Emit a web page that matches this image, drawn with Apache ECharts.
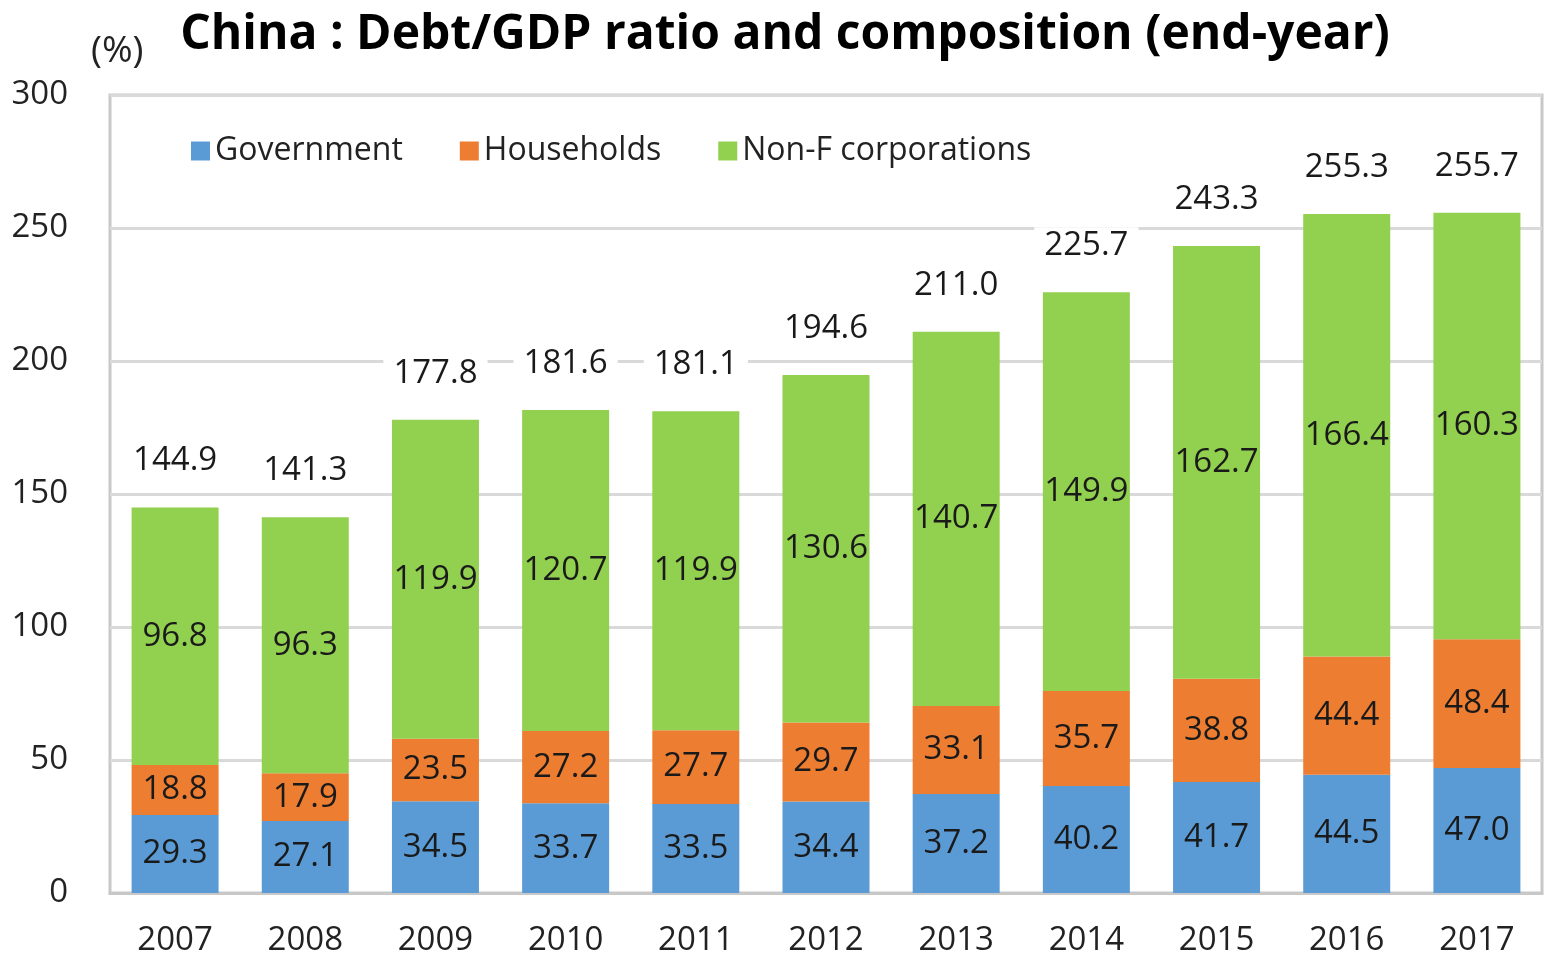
<!DOCTYPE html>
<html><head><meta charset="utf-8">
<script src="https://cdn.jsdelivr.net/npm/echarts@6/dist/echarts.min.js"></script>
<style>html,body{margin:0;padding:0;background:#fff}#c{width:1545px;height:957px}</style>
</head><body><div id="c"></div>
<script>
const years = ['2007','2008','2009','2010','2011','2012','2013','2014','2015','2016','2017'];
const government = [29.3,27.1,34.5,33.7,33.5,34.4,37.2,40.2,41.7,44.5,47.0];
const households = [18.8,17.9,23.5,27.2,27.7,29.7,33.1,35.7,38.8,44.4,48.4];
const nonFinCorp = [96.8,96.3,119.9,120.7,119.9,130.6,140.7,149.9,162.7,166.4,160.3];
const totals = [144.9,141.3,177.8,181.6,181.1,194.6,211.0,225.7,243.3,255.3,255.7];
const seriesNames = ['Government','Households','Non-F corporations'];

const FONT = '"Open Sans", sans-serif';
const chart = echarts.init(document.getElementById('c'), null, {renderer:'canvas'});
const segLabel = {show:true, position:'inside', color:'#1a1a1a', fontSize:33, fontFamily:FONT,
  formatter: p => p.value.toFixed(1)};
chart.setOption({
  animation:false,
  title:{text:'China : Debt/GDP ratio and composition (end-year)', left:780, top:6, textAlign:'center',
    textStyle:{fontFamily:FONT, fontWeight:'bold', fontSize:48, color:'#000'}},
  graphic:[{type:'text', left:91, top:33, style:{text:'(%)', font:'37px "Open Sans"', fill:'#222'}}],
  legend:{left:186, top:130, itemWidth:19, itemHeight:19, itemGap:57, icon:'rect',
    textStyle:{fontFamily:FONT, fontSize:32, color:'#222'}, data:seriesNames},
  grid:{left:110, right:3, top:95, bottom:62, show:true, borderColor:'#c8c8c8', borderWidth:3, containLabel:false},
  xAxis:{type:'category', data:years, axisLine:{show:true, lineStyle:{color:'#c8c8c8', width:3}},
    axisTick:{show:false}, axisLabel:{fontFamily:FONT, fontSize:33, color:'#222', margin:31}},
  yAxis:{type:'value', min:0, max:300, interval:50, axisLine:{show:false}, axisTick:{show:false},
    axisLabel:{fontFamily:FONT, fontSize:33, color:'#222', margin:42},
    splitLine:{lineStyle:{color:'#d9d9d9', width:3}}},
  series:[
    {name:seriesNames[0], type:'bar', stack:'t', data:government, barWidth:87, itemStyle:{color:'#5b9bd5'}, label:segLabel},
    {name:seriesNames[1], type:'bar', stack:'t', data:households, itemStyle:{color:'#ed7d31'}, label:segLabel},
    {name:seriesNames[2], type:'bar', stack:'t', data:nonFinCorp, itemStyle:{color:'#92d050'}, label:segLabel},
    {name:'Total', type:'bar', stack:'t', data:totals.map(()=>0), itemStyle:{color:'transparent'},
      label:{show:true, position:'top', distance:28, color:'#1a1a1a', fontSize:33, fontFamily:FONT,
        backgroundColor:'#fff', padding:[2,10], formatter:p=>totals[p.dataIndex].toFixed(1)}}
  ]
});
</script></body></html>
